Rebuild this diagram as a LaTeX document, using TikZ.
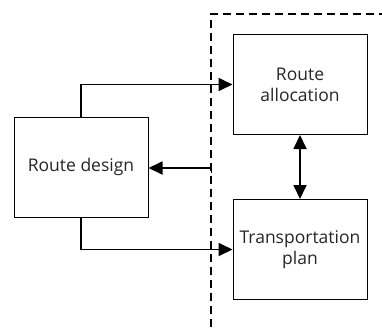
\documentclass[tikz,border=0pt]{standalone}
\usepackage{fontspec}
\setmainfont{Open Sans}
\usetikzlibrary{arrows.meta}
\begin{document}
\begin{tikzpicture}[x=1pt,y=-1pt,
  box/.style={draw,line width=1pt,minimum width=134pt,minimum height=100pt,inner sep=0pt,align=center,font=\fontsize{17.5}{21}\selectfont,text=black!85},
  conn/.style={line width=1.8pt,-{Triangle[length=14pt,width=13pt]}},
  both/.style={line width=1.8pt,{Triangle[length=14pt,width=13pt]}-{Triangle[length=14pt,width=13pt]}}]
\useasboundingbox (0,0) rectangle (382,327);
\node[box] (ra) at (300,84.5) {Route\\allocation};
\node[box] (tp) at (300,249.5) {Transportation\\plan};
\node[box] (rd) at (81,167) {Route design};
\coordinate (dtop) at (211,14);
\coordinate (dbot) at (211,327);
\coordinate (dright) at (382,14);
\draw[line width=1.2pt,dash pattern=on 8pt off 5pt] (dbot) -- (dtop) -- (dright);
\coordinate (src) at (211,168);
\draw[line width=1pt] (211,163) -- (211,173);
\draw[conn] (rd.north) |- (ra.west);
\draw[conn] (rd.south) |- (tp.west);
\draw[conn] (src) -- (rd.east |- src);
\draw[both] (ra.south) -- (tp.north);
\end{tikzpicture}
\end{document}
